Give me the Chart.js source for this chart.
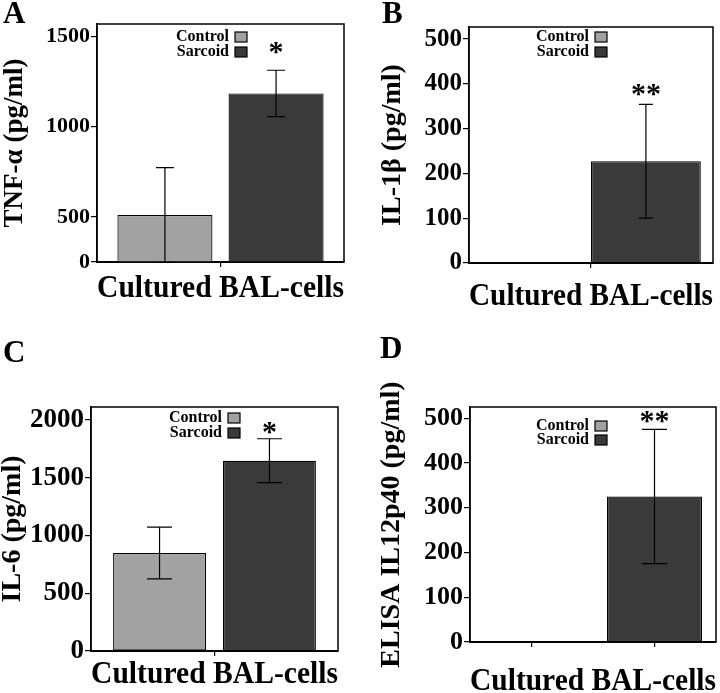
<!DOCTYPE html>
<html>
<head>
<meta charset="utf-8">
<script src="https://cdn.jsdelivr.net/npm/chart.js@4.4.0/dist/chart.umd.min.js"></script>
<style>
  html, body { margin: 0; padding: 0; background: #fff; overflow: hidden; }
  canvas { position: absolute; }
</style>
</head>
<body>
<canvas id="chartA" width="360" height="325" style="left:0;top:0"></canvas>
<canvas id="chartB" width="360" height="325" style="left:360px;top:0"></canvas>
<canvas id="chartC" width="360" height="380" style="left:0;top:330px"></canvas>
<canvas id="chartD" width="360" height="380" style="left:360px;top:330px"></canvas>
<script>
// data
const categoryName = "Cultured BAL-cells";
const seriesNames = ["Control", "Sarcoid"];

// A: TNF-alpha (axis is broken: bottom labelled 0 sits at 250)
const tnfMeans = [510, 1183];
const tnfErrors = [262, 128];
const tnfTicks = [250, 500, 1000, 1500];
const tnfTickLabels = ["0", "500", "1000", "1500"];

// B: IL-1beta
const il1Means = [0, 227];
const il1Errors = [0, 127];
const il1Ticks = [0, 100, 200, 300, 400, 500];

// C: IL-6
const il6Means = [848, 1648];
const il6Errors = [224, 190];
const il6Ticks = [0, 500, 1000, 1500, 2000];

// D: ELISA IL12p40
const il12Means = [0, 325];
const il12Errors = [0, 150];
const il12Ticks = [0, 100, 200, 300, 400, 500];

const sigMarks = ["*", "**", "*", "**"];

const colors = ["#a2a2a2", "#3a3a3a"];
const FONT = "'Liberation Serif', 'Times New Roman', serif";

const panels = [
  { id: "chartA", letter: "A", letterX: 3, letterY: 23, yTitle: "TNF-α (pg/ml)",
    means: tnfMeans, errors: tnfErrors, ticks: tnfTicks, tickLabels: tnfTickLabels,
    min: 250, max: 1567, sig: sigMarks[0], W: 360, H: 325,
    area: { left: 97, top: 24, right: 344, bottom: 262 },
    tickFont: 22, yTitleFont: 27, yTitleX: 15, xTitleY: 289,
    catPct: 0.9, barPct: 0.855, cap: 18, sigGap: 23, legendX: 132, legendY: 13, legendStep: 15, split: false },
  { id: "chartB", letter: "B", letterX: 22, letterY: 23, yTitle: "IL-1β (pg/ml)",
    means: il1Means, errors: il1Errors, ticks: il1Ticks, tickLabels: null,
    min: 0, max: 527, sig: sigMarks[1], W: 360, H: 325,
    area: { left: 109, top: 27, right: 353, bottom: 263 },
    tickFont: 25, yTitleFont: 28, yTitleX: 33, xTitleY: 297,
    catPct: 0.9, barPct: 1.0, cap: 14, sigGap: 15, legendX: 120, legendY: 10, legendStep: 15, split: false },
  { id: "chartC", letter: "C", letterX: 3, letterY: 32, yTitle: "IL-6 (pg/ml)",
    means: il6Means, errors: il6Errors, ticks: il6Ticks, tickLabels: null,
    min: 0, max: 2113, sig: sigMarks[2], W: 360, H: 380,
    area: { left: 91, top: 77, right: 338, bottom: 321 },
    tickFont: 27, yTitleFont: 28, yTitleX: 13, xTitleY: 345,
    catPct: 0.89, barPct: 0.845, cap: 25, sigGap: 12, legendX: 131, legendY: 11, legendStep: 15, split: false },
  { id: "chartD", letter: "D", letterX: 20, letterY: 28, yTitle: "ELISA IL12p40 (pg/ml)",
    means: il12Means, errors: il12Errors, ticks: il12Ticks, tickLabels: null,
    min: 0, max: 525, sig: sigMarks[3], W: 360, H: 380,
    area: { left: 110, top: 77, right: 356, bottom: 312 },
    tickFont: 26, yTitleFont: 28, yTitleX: 32, xTitleY: 352,
    catPct: 0.9, barPct: 0.858, cap: 25, sigGap: 13, legendX: 119, legendY: 19, legendStep: 14, split: true },
];

function extrasPlugin(p) {
  return {
    id: "extras",
    afterDatasetsDraw(chart) {
      const ctx = chart.ctx;
      const a = chart.chartArea;
      const yScale = chart.scales.y;
      // error bars
      ctx.save();
      ctx.beginPath();
      ctx.rect(a.left, a.top - 1, a.right - a.left, a.bottom - a.top + 1);
      ctx.clip();
      ctx.strokeStyle = "#000";
      ctx.lineWidth = 1.2;
      chart.data.datasets.forEach((ds, i) => {
        const meta = chart.getDatasetMeta(i);
        ds.data.forEach((v, j) => {
          const e = ds.errors[j];
          if (v == null || !e) return;
          const x = meta.data[j].x;
          const yt = yScale.getPixelForValue(v + e);
          const yb = yScale.getPixelForValue(v - e);
          ctx.beginPath();
          ctx.moveTo(x, yt); ctx.lineTo(x, yb);
          ctx.moveTo(x - p.cap / 2, yt); ctx.lineTo(x + p.cap / 2, yt);
          ctx.moveTo(x - p.cap / 2, yb); ctx.lineTo(x + p.cap / 2, yb);
          ctx.stroke();
        });
      });
      ctx.restore();
    },
    afterDraw(chart) {
      const ctx = chart.ctx;
      const a = chart.chartArea;
      const yScale = chart.scales.y;
      ctx.save();
      // frame
      ctx.strokeStyle = "#000";
      ctx.lineWidth = 1.5;
      ctx.strokeRect(a.left, a.top, a.right - a.left, a.bottom - a.top);
      // legend, box on the right of the text
      ctx.font = "bold 16px " + FONT;
      ctx.textAlign = "right";
      ctx.textBaseline = "middle";
      chart.data.datasets.forEach((ds, i) => {
        const tx = a.left + p.legendX;
        const ty = a.top + p.legendY + i * p.legendStep;
        ctx.fillStyle = "#000";
        ctx.fillText(ds.label, tx, ty);
        ctx.fillStyle = ds.backgroundColor;
        ctx.fillRect(tx + 6, ty - 5, 12, 10);
        ctx.lineWidth = 1.2;
        ctx.strokeRect(tx + 6, ty - 5, 12, 10);
      });
      // significance mark above the sarcoid error bar
      const si = 1;
      const meta = chart.getDatasetMeta(si);
      const ds = chart.data.datasets[si];
      const j = p.split ? 1 : 0;
      const sx = meta.data[j].x;
      const sy = yScale.getPixelForValue(ds.data[j] + ds.errors[j]) - p.sigGap;
      ctx.fillStyle = "#000";
      ctx.font = "bold 30px " + FONT;
      ctx.textAlign = "center";
      ctx.textBaseline = "alphabetic";
      ctx.fillText(p.sig, sx, sy + 14);
      // panel letter
      ctx.textAlign = "left";
      ctx.font = "bold 31px " + FONT;
      ctx.fillText(p.letter, p.letterX, p.letterY);
      ctx.restore();
    },
  };
}

function makePanel(p) {
  const labels = p.split ? ["", ""] : [""];
  const datasets = seriesNames.map((name, i) => ({
    label: name,
    data: p.split ? labels.map((_, j) => (j === i ? p.means[i] : null)) : [p.means[i]],
    errors: p.split ? labels.map((_, j) => (j === i ? p.errors[i] : null)) : [p.errors[i]],
    backgroundColor: colors[i],
    borderColor: "#000",
    borderWidth: 1.2,
    borderSkipped: false,
    barPercentage: p.barPct,
    categoryPercentage: p.catPct,
  }));
  return new Chart(document.getElementById(p.id), {
    type: "bar",
    data: { labels: labels, datasets: datasets },
    options: {
      responsive: false,
      animation: false,
      devicePixelRatio: 1,
      skipNull: true,
      layout: { padding: { left: 0, top: p.area.top, right: p.W - p.area.right, bottom: 0 } },
      plugins: { legend: { display: false }, tooltip: { enabled: false } },
      scales: {
        x: {
          grid: { display: true, offset: false, drawOnChartArea: false, tickLength: 5, color: "#000", lineWidth: 1.2 },
          border: { display: true, color: "#000", width: 2 },
          ticks: { display: false },
          title: {
            display: true, text: categoryName, color: "#000",
            font: { family: FONT, size: 32, weight: "bold", lineHeight: 1 },
            padding: { top: 0, bottom: p.H - p.xTitleY - 16 },
          },
          afterFit: (s) => { s.height = p.H - p.area.bottom; },
        },
        y: {
          min: p.min,
          max: p.max,
          afterBuildTicks: (s) => { s.ticks = p.ticks.map((v) => ({ value: v })); },
          grid: { display: true, drawOnChartArea: false, tickLength: 6, color: "#000", lineWidth: 1.2 },
          border: { display: true, color: "#000", width: 1.5 },
          ticks: {
            color: "#000", padding: 1,
            font: { family: FONT, size: p.tickFont, weight: "bold" },
            callback: (v, i) => (p.tickLabels ? p.tickLabels[i] : String(v)),
          },
          title: {
            display: true, text: p.yTitle, color: "#000",
            font: { family: FONT, size: p.yTitleFont, weight: "bold", lineHeight: 1 },
            padding: { top: p.yTitleX - p.yTitleFont / 2, bottom: 0 },
          },
          afterFit: (s) => { s.width = p.area.left; },
        },
      },
    },
    plugins: [extrasPlugin(p)],
  });
}

panels.forEach(makePanel);
</script>
</body>
</html>
